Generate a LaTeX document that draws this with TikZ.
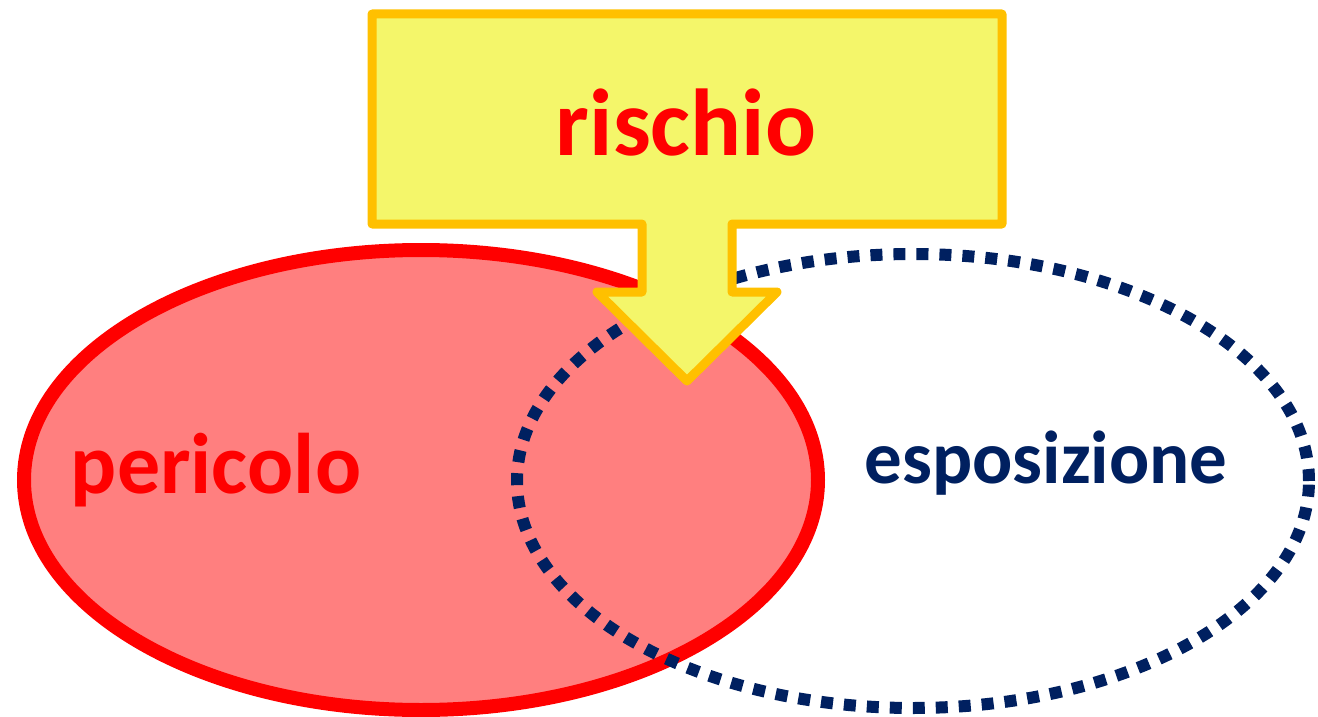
\documentclass[tikz,border=0pt]{standalone}
\usepackage{fontspec}
\setmainfont{Carlito}
\usetikzlibrary{shapes.geometric}
\definecolor{hazred}{HTML}{FF0000}
\definecolor{hazfill}{HTML}{FF7F7F}
\definecolor{navy}{HTML}{002060}
\definecolor{callfill}{HTML}{F4F66A}
\definecolor{callline}{HTML}{FFC000}
\tikzset{
  hazard/.style={ellipse, draw=hazred, fill=hazfill, line width=14pt, inner sep=0pt, outer sep=0pt},
  exposure/.style={ellipse, draw=navy, line width=12pt, dash pattern=on 12pt off 11pt, inner sep=0pt, outer sep=0pt},
  callout/.style={draw=callline, fill=callfill, line width=9pt, line join=round},
  lbl/.style={font=\bfseries, anchor=base, inner sep=0pt}
}
\begin{document}
\begin{tikzpicture}[x=1pt, y=-1pt]
\useasboundingbox (0,0) rectangle (1318,717);
\node[hazard, minimum width=794pt, minimum height=460pt] (per) at (421,480) {};
\node[exposure, minimum width=792pt, minimum height=454pt] (esp) at (913,481) {};
\node[lbl, text=hazred, font=\bfseries\fontsize{86}{86}\selectfont] (tper) at (216,493) {pericolo};
\node[lbl, text=navy, font=\bfseries\fontsize{75}{75}\selectfont] (tesp) at (1046,483) {esposizione};
\draw[callout] (372,14) -- (1002,14) -- (1002,224) -- (732,224) -- (732,292) -- (777,292) -- (687,381) -- (597,292) -- (642,292) -- (642,224) -- (372,224) -- cycle;
\node[lbl, text=hazred, font=\bfseries\fontsize{95}{95}\selectfont] (tris) at (686,155) {rischio};
\end{tikzpicture}
\end{document}
